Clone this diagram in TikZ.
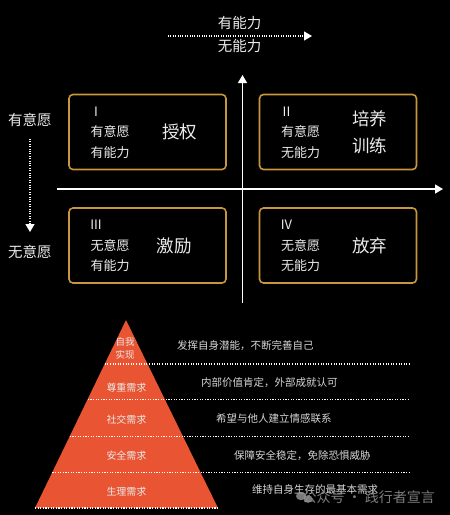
\documentclass[tikz,border=0pt]{standalone}
\usepackage{fontspec}
\setmainfont{Noto Sans CJK SC}
\usetikzlibrary{arrows.meta}
\definecolor{gold}{HTML}{C8963E}
\definecolor{pyr}{HTML}{E95432}
\definecolor{fg}{HTML}{EBEBEB}
\definecolor{soft}{HTML}{D6D6D6}
\tikzset{
    axis/.style={white, line width=1.4pt, -{Triangle[width=9pt,length=8pt]}},
    dotarrow/.style={white, line width=1.2pt, dash pattern=on 1pt off 1.4pt, -{Triangle[width=9pt,length=8pt]}},
    level/.style={white, line width=1.2pt, dash pattern=on 1.1pt off 1.5pt}
}

\begin{document}
\begin{tikzpicture}[x=1pt,y=-1pt,
    quad/.style={draw=gold, line width=1.6pt, rounded corners=4pt, minimum width=157pt, minimum height=75pt},
    lbl/.style={text=fg, inner sep=0pt, font=\fontsize{13}{13}\selectfont},
    big/.style={text=fg, inner sep=0pt, font=\fontsize{17.5}{17.5}\selectfont},
    head/.style={text=fg, inner sep=0pt, font=\fontsize{14.5}{14.5}\selectfont},
    need/.style={text=fg, inner sep=0pt, font=\fontsize{10}{10}\selectfont},
    desc/.style={text=soft, inner sep=0pt, anchor=west, font=\fontsize{10.5}{10.5}\selectfont}]
\fill[black] (0,0) rectangle (450,515);
\useasboundingbox (0,0) rectangle (450,515);
% axes
\coordinate (xs) at (57,189);
\coordinate (xe) at (443,189);
\coordinate (ys) at (242.5,303);
\coordinate (ye) at (242.5,75);
\draw[axis] (xs) -- (xe);
\draw[axis] (ys) -- (ye);
% ability scale
\node[head] (abl1) at (239.5,23) {有能力};
\node[head] (abl0) at (239.5,46) {无能力};
\coordinate (as) at (168,36);
\coordinate (ae) at (312,36);
\draw[dotarrow] (as) -- (ae);
% will scale
\node[head] (wil1) at (30,119.5) {有意愿};
\node[head] (wil0) at (30,251.5) {无意愿};
\coordinate (ws) at (30,139);
\coordinate (we) at (30,232);
\draw[dotarrow] (ws) -- (we);
% quadrants
\foreach \n/\x/\y/\r/\a/\b in {q1/147.5/132/I/有意愿/有能力, q2/338/132/II/有意愿/无能力, q3/147.5/245.5/III/无意愿/有能力, q4/338/245.5/IV/无意愿/无能力}{
    \node[quad] (\n) at (\x,\y) {};
    \node[lbl] (\n r) at (\x-51.5,\y-20.5) {\r};
    \node[lbl] (\n a) at (\x-37.5,\y) {\a};
    \node[lbl] (\n b) at (\x-37.5,\y+20.5) {\b};
}
\node[big] (act1) at (179.5,132) {授权};
\node[big] (act2) at (369.5,119) {培养};
\node[big] (act2b) at (369.5,146) {训练};
\node[big] (act3) at (174,245.5) {激励};
\node[big] (act4) at (369.5,245.5) {放弃};
% pyramid
\fill[pyr] (126,320) -- (218,508) -- (35,508) -- cycle;
\foreach \y/\x/\e in {364/104.7/410, 399.5/87.8/409, 436.5/69.8/409, 472.5/52.4/409, 508/35/218}
    \draw[level] (\x,\y) -- (\e,\y);
\node[need, font=\fontsize{9.5}{9.5}\selectfont] (n5) at (125,341.5) {自我};
\node[need, font=\fontsize{9.5}{9.5}\selectfont] (n5b) at (125,354.5) {实现};
\foreach \n/\y/\t in {n4/388/尊重需求, n3/420/社交需求, n2/456/安全需求, n1/492/生理需求}
    \node[need] (\n) at (126.5,\y) {\t};
\foreach \n/\x/\y/\t in {d5/177/346/{发挥自身潜能，不断完善自己}, d4/201/383/{内部价值肯定，外部成就认可}, d3/216/419/{希望与他人建立情感联系}, d2/234/455.5/{保障安全稳定，免除恐惧威胁}, d1/252/489.5/{维持自身生存的最基本需求}}
    \node[desc] (\n) at (\x,\y) {\t};
% watermark
\fill[gray!80, opacity=0.8] (301,496) ellipse (5pt and 4.2pt);
\fill[gray!80, opacity=0.8] (308,499) ellipse (4.5pt and 3.8pt);
\node[text=gray!85, opacity=0.85, inner sep=0pt, anchor=east, font=\fontsize{14}{14}\selectfont] (wm) at (435,497) {公众号 · 践行者宣言};
\end{tikzpicture}
\end{document}
